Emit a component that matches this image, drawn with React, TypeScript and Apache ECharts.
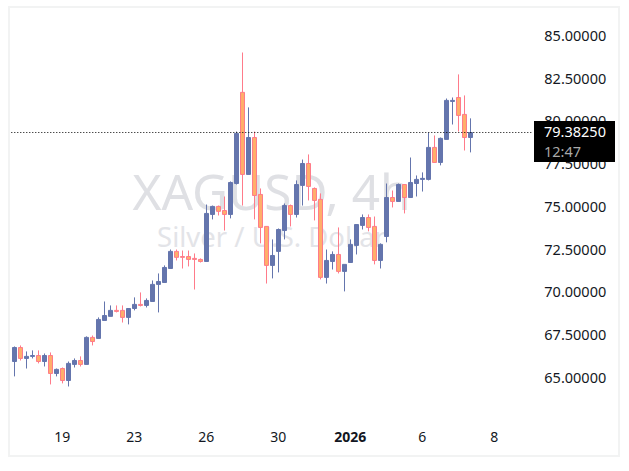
import React, { useEffect, useRef } from "react";
import * as echarts from "echarts";

const opens = [65.99,66.81,66.17,66.29,66.34,65.99,66.34,65.29,65.58,64.88,65.82,66.05,65.82,67.40,67.34,68.39,68.63,68.98,68.98,68.57,69.09,69.33,69.27,69.50,70.50,70.61,71.43,72.43,72.13,72.13,72.02,71.96,71.84,74.59,75.06,74.82,74.59,76.40,81.73,76.93,79.09,75.76,73.89,71.61,72.43,73.65,75.11,74.59,76.29,77.57,76.11,75.47,70.91,71.84,72.25,71.26,71.78,72.78,73.95,74.41,73.89,71.90,73.30,75.58,75.35,76.34,75.58,76.40,76.64,76.64,78.51,77.63,78.98,81.20,81.43,80.44,79.09];
const closes = [66.81,66.17,66.29,66.34,65.99,66.34,65.29,65.53,64.88,65.88,66.05,65.82,67.40,67.16,68.45,68.68,68.98,68.92,68.57,69.09,69.33,69.27,69.56,70.50,70.67,71.49,72.43,72.08,72.08,71.96,71.96,71.84,74.65,75.06,74.77,74.59,76.46,79.33,76.93,79.09,75.70,73.83,71.61,72.19,73.71,75.11,74.59,76.34,77.57,76.23,75.41,70.91,71.90,72.25,71.26,71.67,72.84,74.00,74.41,73.83,71.90,72.84,75.58,75.35,76.34,75.58,76.46,76.64,76.70,78.51,77.63,79.04,81.26,81.26,80.38,79.09,79.38];
const lows = [65.12,66.05,65.58,66.17,65.88,65.70,64.65,65.12,64.71,64.53,65.64,65.70,65.82,66.93,67.34,68.39,68.63,68.86,68.27,68.16,68.98,69.21,69.15,69.50,68.86,70.61,71.43,71.90,71.43,71.55,70.20,71.78,71.84,74.30,74.53,73.65,74.36,76.34,75.11,76.93,74.30,72.90,70.55,70.85,71.20,73.13,73.89,74.41,75.11,75.41,74.24,70.79,70.55,71.37,71.14,70.09,71.78,72.25,73.71,73.60,71.67,71.43,72.96,75.00,75.35,74.65,75.58,75.64,75.93,76.58,77.63,77.46,78.98,79.85,79.44,78.33,78.22];
const highs = [66.87,66.93,66.58,66.64,66.64,66.46,66.52,65.58,65.64,65.99,66.17,66.29,67.46,67.51,68.57,69.50,69.27,69.27,69.27,69.09,69.74,70.03,69.68,70.73,71.14,71.61,72.54,72.54,72.48,72.48,72.31,72.02,75.17,75.11,75.11,75.64,76.52,79.44,84.06,80.85,79.44,76.11,73.89,73.13,73.77,75.23,75.17,76.58,77.80,78.10,76.17,75.82,72.54,72.43,73.83,71.67,73.13,74.00,74.59,74.59,74.47,72.90,76.40,75.99,76.40,76.34,77.92,76.87,77.05,79.38,79.21,79.09,81.37,81.43,82.78,81.55,80.21];
const slotCount = 87;
const tickSlots = [8, 20, 32, 44, 56, 68, 80];
const tickLabels = ["19", "23", "26", "30", "2026", "6", "8"];
const lastPrice = 79.3825;
const lastPriceText = "79.38250";
const countdownText = "12:47";
const symbolText = "XAGUSD, 4h";
const nameText = "Silver / U.S. Dollar";

const FONT = "'Noto Sans', sans-serif";

export default function App() {
  const ref = useRef<HTMLDivElement>(null);
  useEffect(() => {
    const chart = echarts.init(ref.current!, null, { renderer: "svg" });
    const categories = Array.from({ length: slotCount }, (_, i) => String(i));
    const candles = opens.map((o, i) => [o, closes[i], lows[i], highs[i]]);
    const option: any = {
      animation: false,
      backgroundColor: "#ffffff",
      grid: { left: 11.3, top: 36.44, width: 522, height: 384.75 },
      xAxis: {
        type: "category",
        data: categories,
        boundaryGap: true,
        axisLine: { show: false },
        axisTick: { show: false },
        splitLine: { show: false },
        axisLabel: {
          margin: 8,
          interval: (i: number) => tickSlots.includes(i),
          formatter: (v: string) => {
            const k = tickSlots.indexOf(Number(v));
            if (k < 0) return "";
            return tickLabels[k] === "2026" ? `{b|${tickLabels[k]}}` : tickLabels[k];
          },
          color: "#131722",
          fontFamily: FONT,
          fontSize: 14,
          rich: { b: { fontWeight: "bold", color: "#131722", fontFamily: FONT, fontSize: 14 } },
        },
      },
      yAxis: {
        type: "value",
        position: "right",
        min: 62.5,
        max: 85,
        interval: 2.5,
        axisLine: { show: false },
        axisTick: { show: false },
        splitLine: { show: false },
        axisLabel: {
          showMinLabel: false,
          margin: 11,
          align: "left",
          color: "#131722",
          fontFamily: FONT,
          fontSize: 14.5,
          formatter: (v: number) => `{p|${v.toFixed(5)}}`,
          rich: { p: { color: "#131722", fontFamily: FONT, fontSize: 14.5, padding: [0, 0, 3, 0] } },
        },
      },
      series: [
        {
          type: "candlestick",
          data: candles,
          barWidth: 5,
          clip: false,
          itemStyle: {
            color: "#6475ad",
            borderColor: "#6475ad",
            color0: "#ffae6a",
            borderColor0: "#ff7b8a",
            borderWidth: 1,
          },
          markLine: {
            silent: true,
            symbol: "none",
            label: { show: false },
            lineStyle: { color: "#000000", type: [1, 2], dashOffset: 0.3, width: 1 },
            data: [{ yAxis: lastPrice }],
          },
        },
      ],
    };
    chart.setOption(option);
    const py = chart.convertToPixel({ yAxisIndex: 0 }, lastPrice) as number;
    chart.setOption({
      graphic: [
        { type: "rect", z: 0, silent: true, shape: { x: 9, y: 7, width: 610, height: 449 }, style: { fill: "none", stroke: "#f2f3f3", lineWidth: 2 } },
        { type: "text", z: 1, silent: true, x: 271.5, y: 191, style: { text: symbolText, fill: "#dfe0e4", font: `49.5px ${FONT}`, align: "center", verticalAlign: "middle" } },
        { type: "text", z: 1, silent: true, x: 271.5, y: 236, style: { text: nameText, fill: "#e3e4e8", font: `27.5px ${FONT}`, align: "center", verticalAlign: "middle" } },
        { type: "rect", z: 20, silent: true, shape: { x: 534, y: py - 11.5, width: 81, height: 41 }, style: { fill: "#000000" } },
        { type: "text", z: 21, silent: true, x: 544, y: py - 1, style: { text: lastPriceText, fill: "#ffffff", font: `14.5px ${FONT}`, verticalAlign: "middle" } },
        { type: "text", z: 21, silent: true, x: 544, y: py + 19, style: { text: countdownText, fill: "#a9a9a9", font: `14.5px ${FONT}`, verticalAlign: "middle" } },
      ],
    });
    return () => chart.dispose();
  }, []);
  return (
    <div
      ref={ref}
      style={{ position: "absolute", left: 0, top: 0, width: 629, height: 471 }}
    />
  );
}
